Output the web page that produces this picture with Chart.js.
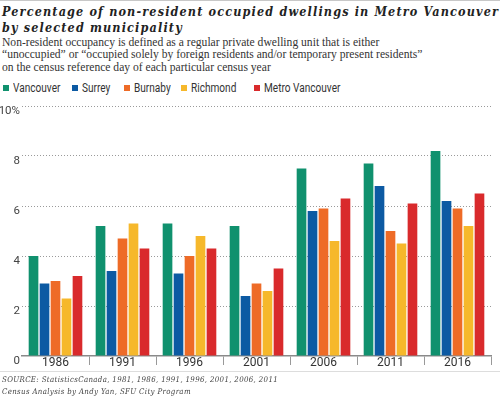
<!DOCTYPE html>
<html>
<head>
<meta charset="utf-8">
<script src="https://cdn.jsdelivr.net/npm/chart.js@4"></script>
<style>
  body { margin: 0; background: #fff; width: 500px; height: 397px; position: relative; overflow: hidden; }
  .rule { position: absolute; left: 0; width: 500px; height: 1px; background: #c8c8c8; }
  #title { position: absolute; left: 2px; top: 4px; width: 500px; font-family: "DejaVu Serif Condensed", "DejaVu Serif"; font-weight: bold; font-style: italic; font-size: 12.5px; line-height: 16px; letter-spacing: 1.15px; color: #222; white-space: nowrap; }
  #sub { position: absolute; left: 2px; top: 37px; font-family: "Liberation Serif", serif; font-size: 11.6px; line-height: 12.4px; color: #333; white-space: nowrap; }
  #legend { position: absolute; left: 0; top: 81px; height: 14px; width: 500px; font-family: Roboto, sans-serif; font-size: 12px; color: #333; }
  #legend span { position: absolute; top: 0; white-space: nowrap; }
  #legend i { display: inline-block; width: 6px; height: 6px; margin-right: 4px; vertical-align: 1px; }
  #legend b { font-weight: normal; display: inline-block; transform: scaleX(0.84); transform-origin: left center; }
  #wrap { position: absolute; left: 0; top: 96px; width: 500px; height: 276px; }
  #src { position: absolute; left: 2px; top: 374px; font-family: "DejaVu Serif Condensed", "DejaVu Serif"; font-style: italic; font-size: 7.8px; line-height: 12px; letter-spacing: 0.35px; color: #444; white-space: nowrap; }
</style>
</head>
<body>
<div class="rule" style="top:0"></div>
<div id="title">Percentage of non-resident occupied dwellings in Metro Vancouver<br>by selected municipality</div>
<div id="sub">Non-resident occupancy is defined as a regular private dwelling unit that is either<br>“unoccupied” or “occupied solely by foreign residents and/or temporary present residents”<br>on the census reference day of each particular census year</div>
<div id="legend"></div>
<div id="wrap"><canvas id="chart"></canvas></div>
<div class="rule" style="top:371px; background:#ddd"></div>
<div id="src">SOURCE: StatisticsCanada, 1981, 1986, 1991, 1996, 2001, 2006, 2011<br>Census Analysis by Andy Yan, SFU City Program</div>
<script>
const years = ['1986', '1991', '1996', '2001', '2006', '2011', '2016'];
const seriesNames = ['Vancouver', 'Surrey', 'Burnaby', 'Richmond', 'Metro Vancouver'];
const seriesColors = ['#10916e', '#0c5aa3', '#ee6b27', '#f6b82b', '#d92a2c'];
const vancouver = [4.0, 5.2, 5.3, 5.2, 7.5, 7.7, 8.2];
const surrey = [2.9, 3.4, 3.3, 2.4, 5.8, 6.8, 6.2];
const burnaby = [3.0, 4.7, 4.0, 2.9, 5.9, 5.0, 5.9];
const richmond = [2.3, 5.3, 4.8, 2.6, 4.6, 4.5, 5.2];
const metroVancouver = [3.2, 4.3, 4.3, 3.5, 6.3, 6.1, 6.5];
const yTicks = [0, 2, 4, 6, 8, 10];

const seriesValues = [vancouver, surrey, burnaby, richmond, metroVancouver];
const legendX = [3, 72, 124, 181, 254];

// html legend, irregular spacing like the print graphic
const legend = document.getElementById('legend');
seriesNames.forEach(function(name, i) {
    const item = document.createElement('span');
    item.style.left = legendX[i] + 'px';
    item.innerHTML = '<i style="background:' + seriesColors[i] + '"></i><b>' + name + '</b>';
    legend.appendChild(item);
});

const ctx = document.getElementById('chart').getContext('2d');
new Chart(ctx, {
    type: 'bar',
    data: {
        labels: years,
        datasets: seriesNames.map(function(name, i) {
            return {
                label: name,
                data: seriesValues[i],
                backgroundColor: seriesColors[i],
                categoryPercentage: 0.82,
                barPercentage: 0.88
            };
        })
    },
    options: {
        responsive: true,
        maintainAspectRatio: false,
        animation: false,
        layout: { padding: { top: 10, right: 9, left: 0, bottom: 0 } },
        plugins: {
            legend: { display: false },
            tooltip: { enabled: false }
        },
        scales: {
            x: {
                afterFit: function(scale) { scale.height = 16; },
                grid: {
                    offset: true,
                    drawOnChartArea: false,
                    drawTicks: true,
                    tickLength: 9,
                    color: function(c) {
                        return (c.index === 0 || c.index === years.length) ? 'rgba(0,0,0,0)' : '#999';
                    }
                },
                border: { display: true, color: '#8a8a8a', width: 1.5 },
                ticks: {
                    padding: -9,
                    color: '#333',
                    font: { family: 'Roboto, sans-serif', size: 12 }
                }
            },
            y: {
                min: 0,
                max: 10,
                afterFit: function(scale) { scale.width = 22; },
                afterBuildTicks: function(scale) {
                    scale.ticks = yTicks.map(function(v) { return { value: v }; });
                },
                grid: {
                    drawTicks: false,
                    color: function(c) {
                        return c.tick && c.tick.value === 0 ? 'rgba(0,0,0,0)' : '#9a9a9a';
                    }
                },
                border: { display: false, dash: [1, 2] },
                ticks: {
                    padding: 2,
                    labelOffset: 5,
                    color: '#444',
                    font: { family: 'Roboto, sans-serif', size: 11.5 },
                    callback: function(value) { return value === 10 ? '10%' : value; }
                }
            }
        }
    }
});
</script>
</body>
</html>
